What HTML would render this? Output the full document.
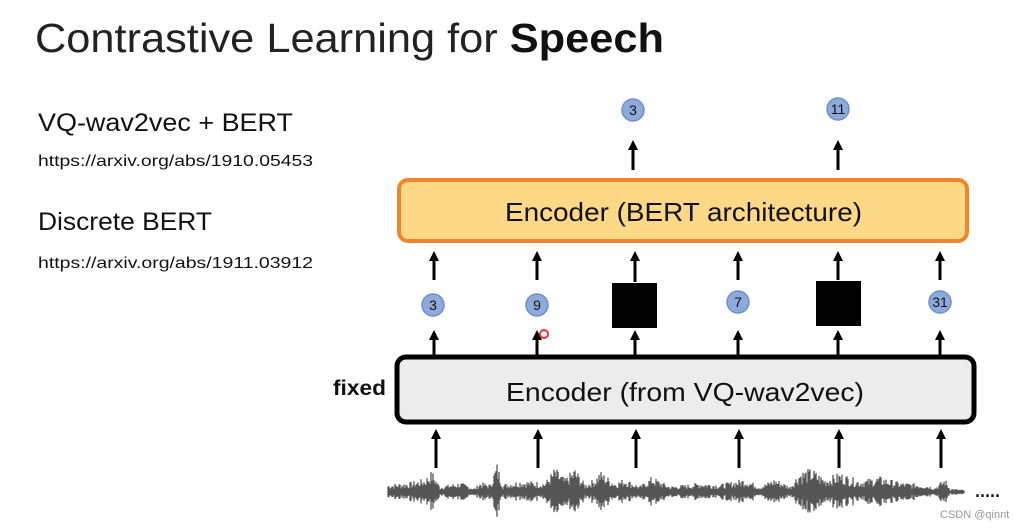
<!DOCTYPE html>
<html><head><meta charset="utf-8"><style>
html,body{margin:0;padding:0;background:#fff;}
svg{display:block;font-family:"Liberation Sans",sans-serif;}
</style></head><body>
<svg id="s" width="1019" height="529" viewBox="0 0 1019 529" xmlns="http://www.w3.org/2000/svg">
<defs><marker id="a" markerWidth="10" markerHeight="10" refX="5" refY="5" orient="auto" markerUnits="userSpaceOnUse"><path d="M0,0 L10,5 L0,10 z" fill="#000"/></marker></defs>
<rect width="1019" height="529" fill="#fff"/>
<text x="35" y="52" font-size="41" textLength="629" lengthAdjust="spacingAndGlyphs" fill="#222">Contrastive Learning for <tspan font-weight="bold" fill="#111">Speech</tspan></text>
<text x="38" y="131" font-size="25" textLength="255" lengthAdjust="spacingAndGlyphs" fill="#111">VQ-wav2vec + BERT</text>
<text x="38" y="166" font-size="16" textLength="275" lengthAdjust="spacingAndGlyphs" fill="#111">https://arxiv.org/abs/1910.05453</text>
<text x="38" y="230" font-size="25" textLength="174" lengthAdjust="spacingAndGlyphs" fill="#111">Discrete BERT</text>
<text x="38" y="268" font-size="16" textLength="275" lengthAdjust="spacingAndGlyphs" fill="#111">https://arxiv.org/abs/1911.03912</text>
<text x="333" y="395" font-size="21" font-weight="bold" textLength="53" lengthAdjust="spacingAndGlyphs" fill="#111">fixed</text>

<rect x="399" y="180" width="568" height="61" rx="9" fill="#fdd887" stroke="#f0862c" stroke-width="4"/>
<text x="505" y="221" font-size="26" textLength="357" lengthAdjust="spacingAndGlyphs" fill="#111">Encoder (BERT architecture)</text>
<rect x="397" y="357" width="577" height="65" rx="9" fill="#ececec" stroke="#000" stroke-width="5"/>
<text x="506" y="401" font-size="26" textLength="358" lengthAdjust="spacingAndGlyphs" fill="#111">Encoder (from VQ-wav2vec)</text>

<g stroke="#000" stroke-width="3" marker-end="url(#a)">
<line x1="633" y1="170" x2="633" y2="145"/><line x1="838" y1="170" x2="838" y2="145"/>
<line x1="434" y1="280" x2="434" y2="256"/><line x1="537" y1="280" x2="537" y2="256"/><line x1="635" y1="282" x2="635" y2="256"/><line x1="738" y1="280" x2="738" y2="256"/><line x1="838" y1="280" x2="838" y2="256"/><line x1="940" y1="280" x2="940" y2="256"/>
<line x1="434" y1="355" x2="434" y2="335"/><line x1="537" y1="355" x2="537" y2="335"/><line x1="635" y1="355" x2="635" y2="335"/><line x1="738" y1="355" x2="738" y2="335"/><line x1="838" y1="355" x2="838" y2="335"/><line x1="940" y1="355" x2="940" y2="335"/>
<line x1="436" y1="468" x2="436" y2="434"/><line x1="538" y1="468" x2="538" y2="434"/><line x1="636" y1="468" x2="636" y2="434"/><line x1="739" y1="468" x2="739" y2="434"/><line x1="839" y1="468" x2="839" y2="434"/><line x1="941" y1="468" x2="941" y2="434"/>
</g>

<g fill="#8eaadb" stroke="#6d8fcc" stroke-width="1.5">
<circle cx="633" cy="110" r="11"/><circle cx="838" cy="109" r="11"/>
<circle cx="433" cy="305" r="11"/><circle cx="537" cy="305" r="11"/><circle cx="738" cy="302" r="11"/><circle cx="940" cy="302" r="11"/>
</g>
<g font-size="14" text-anchor="middle" fill="#111">
<text x="633" y="115">3</text><text x="838" y="114">11</text>
<text x="433" y="310">3</text><text x="537" y="310">9</text><text x="738" y="307">7</text><text x="940" y="307">31</text>
</g>
<rect x="612" y="283" width="45" height="45" fill="#000"/>
<rect x="816" y="281" width="45" height="45" fill="#000"/>
<circle cx="544" cy="334" r="4" fill="none" stroke="#e33" stroke-width="2"/>

<path id="w" fill="none" stroke="#555" stroke-width="1.3"/>
<text x="975" y="497" font-size="18" font-weight="bold" fill="#222">.....</text>
<text x="940" y="518" font-size="11" fill="#999">CSDN @qinnt</text>
</svg>
<script>
var d="",s=7;function r(){s=(s*9301+49297)%233280;return s/233280;}
var env=[[388,8],[410,10],[425,14],[432,22],[440,6],[460,10],[475,4],[480,10],[490,8],[497,30],[503,8],[520,12],[545,10],[555,25],[565,14],[575,25],[585,8],[595,14],[600,22],[615,10],[625,14],[640,6],[652,16],[670,6],[690,8],[700,10],[720,8],[745,14],[760,6],[775,14],[790,6],[800,22],[812,24],[825,14],[840,20],[860,12],[880,16],[900,10],[925,8],[935,5],[945,14],[950,4],[965,2]];
function amp(x){for(var i=0;i<env.length-1;i++){if(x>=env[i][0]&&x<env[i+1][0]){var t=(x-env[i][0])/(env[i+1][0]-env[i][0]);return env[i][1]*(1-t)+env[i+1][1]*t;}}return 2;}
for(var x=388;x<965;x+=1){var a=amp(x)*(0.35+0.65*r());d+="M"+x+","+(492-a)+"V"+(492+a*0.9);}
document.getElementById("w").setAttribute("d",d);
</script>
</body></html>
